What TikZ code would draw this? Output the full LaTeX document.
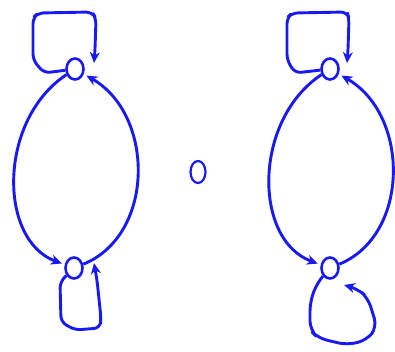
\documentclass[tikz,border=0pt]{standalone}
\usetikzlibrary{arrows.meta,shapes.geometric}
\definecolor{pen}{RGB}{25,25,245}
\begin{document}
\begin{tikzpicture}[x=1pt,y=-1pt,
  line width=2.9pt, draw=pen,
  vtx/.style={ellipse,draw=pen,line width=2.6pt,minimum width=17pt,minimum height=21pt,inner sep=0pt},
  edge/.style={draw=pen,-{Stealth[length=11pt,width=10pt]}},
  loopy/.style={edge,rounded corners=6pt}]
\useasboundingbox (0,0) rectangle (395,351);
% left graph
\node[vtx] (t1) at (75,69) {};
\node[vtx] (b1) at (74,268) {};
% middle
\node[vtx,line width=2.2pt,minimum width=15pt,minimum height=22pt] (m) at (198,172) {};
% right graph
\node[vtx] (t2) at (330,69) {};
\node[vtx] (b2) at (330,268) {};
% free ends of loops
\coordinate (e1) at (94,63);
\coordinate (e2) at (94,263);
\coordinate (e3) at (347,63);
\coordinate (e4) at (344,285);
% arcs left graph
\draw[edge,shorten >=3pt] (t1) .. controls (-2,120) and (-2,240) .. (b1);
\draw[edge,shorten >=3pt] (b1) .. controls (155,235) and (155,115) .. (t1);
% arcs right graph
\draw[edge,shorten >=3pt] (t2) .. controls (253,120) and (253,240) .. (b2);
\draw[edge,shorten >=3pt] (b2) .. controls (410,235) and (410,115) .. (t2);
% loops
\draw[loopy] (t1) -- (44,73) -- (33,60) -- (33,18) -- (38,13) -- (92,12) -- (96,18) -- (95,50) -- (e1);
\draw[loopy] (b1) -- (60,282) -- (61,322) -- (75,330) -- (100,328) -- (101,318) -- (97,280) -- (e2);
\draw[loopy] (t2) -- (295,73) -- (287,60) -- (287,18) -- (292,13) -- (347,12) -- (349,18) -- (348,50) -- (e3);
\draw[loopy,rounded corners=9pt] (b2) -- (317,283) -- (310,302) -- (310,330) -- (318,338) -- (347,345) -- (367,340) -- (377,327) -- (368,298) -- (358,289) -- (e4);
\end{tikzpicture}
\end{document}
